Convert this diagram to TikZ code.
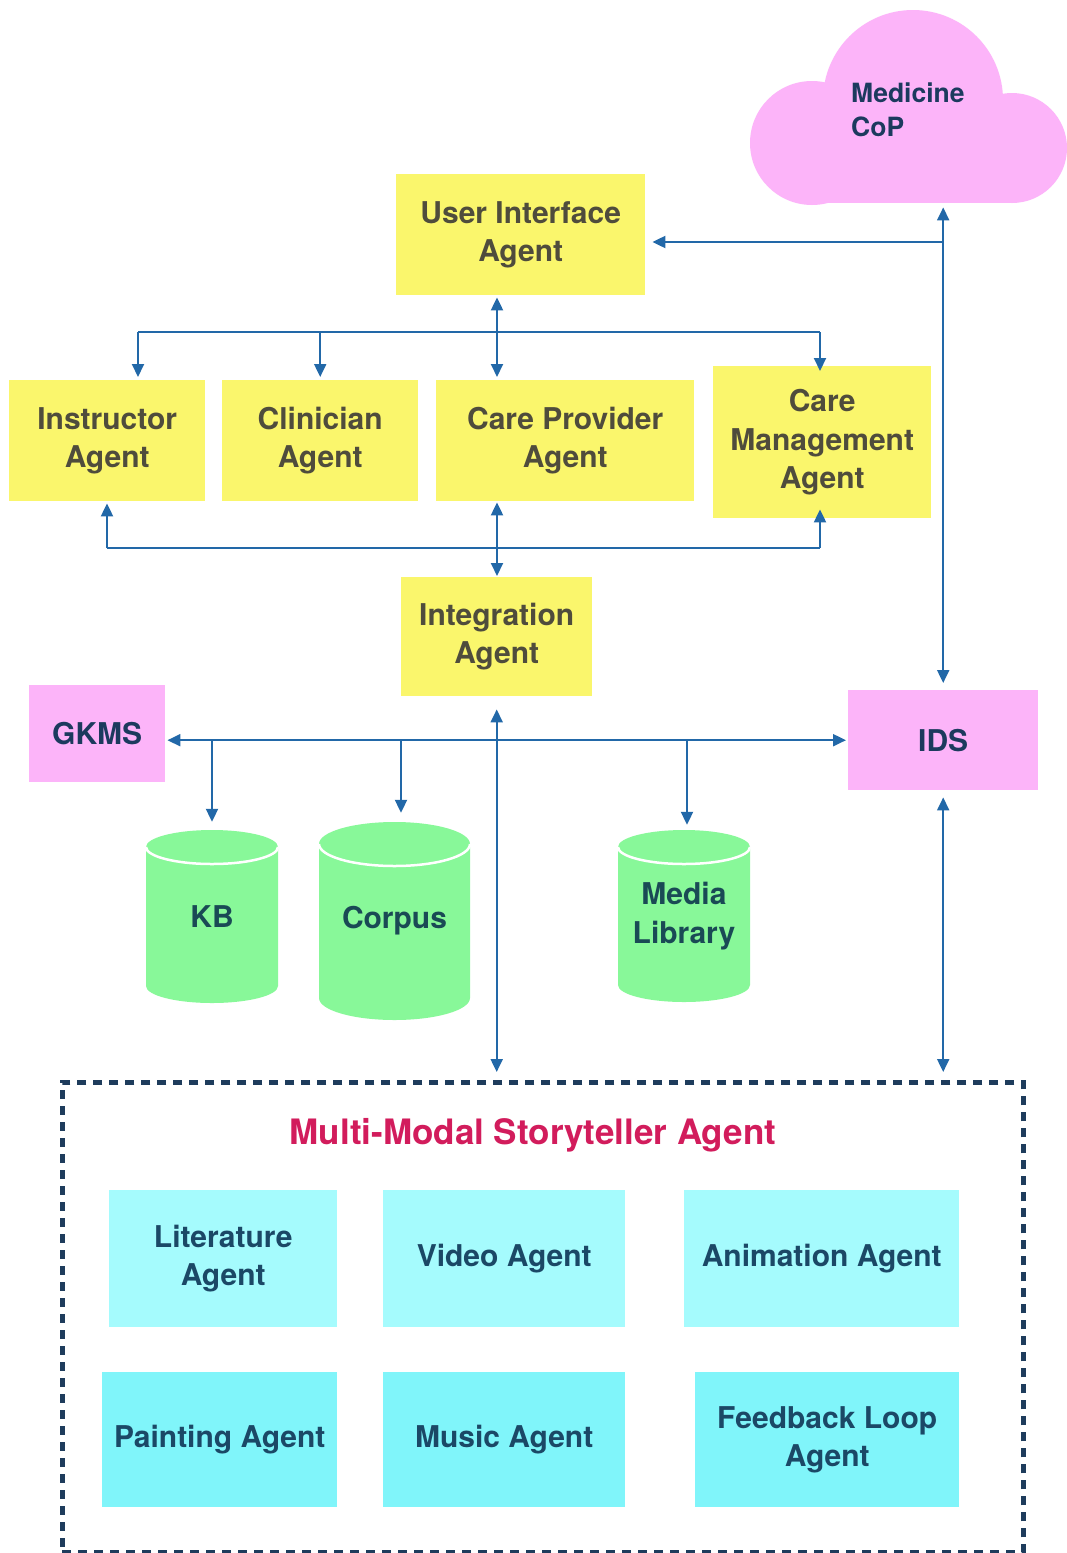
\documentclass[tikz,border=0pt]{standalone}
\usepackage{fontspec}
\setmainfont{TeX Gyre Heros}
\usetikzlibrary{arrows.meta}
\definecolor{yel}{HTML}{FAF66C}
\definecolor{ytxt}{HTML}{4F4C3C}
\definecolor{pnk}{HTML}{FCB4F9}
\definecolor{ntxt}{HTML}{1C3A5E}
\definecolor{grn}{HTML}{88F899}
\definecolor{gtxt}{HTML}{1A4A55}
\definecolor{cyA}{HTML}{A5FBFD}
\definecolor{cyB}{HTML}{80F5FA}
\definecolor{ctxt}{HTML}{1B4866}
\definecolor{arrc}{HTML}{2268A8}
\definecolor{dsh}{HTML}{1E3C5C}
\definecolor{ttl}{HTML}{D21C5C}

\newcommand\dbcyl[7]{%
  \pgfmathsetmacro\cylcx{(#2+#4)/2}%
  \pgfmathsetmacro\cylcy{(#3+#5)/2}%
  \pgfmathsetmacro\cylrx{(#4-#2)/2}%
  \pgfmathsetmacro\cylw{#4-#2}%
  \pgfmathsetmacro\cylh{#5-#3}%
  \pgfmathsetmacro\cylta{#3+#6}%
  \pgfmathsetmacro\cylba{#5-#6}%
  \fill[grn] (#2,\cylta) -- (#2,\cylba) arc[start angle=180,end angle=360,x radius=\cylrx pt,y radius=#6pt] -- (#4,\cylta) arc[start angle=0,end angle=180,x radius=\cylrx pt,y radius=#6pt] -- cycle;
  \draw[white,line width=2.5pt] (#2,\cylta) arc[start angle=180,end angle=360,x radius=\cylrx pt,y radius=#6pt];
  \node[cyltxt,minimum width=\cylw pt,minimum height=\cylh pt] (#1) at (\cylcx,\cylcy) {#7};
}

\begin{document}
\begin{tikzpicture}[x=1pt,y=-1pt,
  base/.style={inner sep=0pt,align=center,font=\fontsize{30}{38.5}\selectfont\bfseries},
  ybox/.style={base,fill=yel,text=ytxt},
  pbox/.style={base,fill=pnk,text=ntxt},
  cbA/.style={base,fill=cyA,text=ctxt},
  cbB/.style={base,fill=cyB,text=ctxt},
  cyltxt/.style={base,text=gtxt},
  wh/.style 2 args={minimum width=#1pt,minimum height=#2pt},
  conn/.style={draw=arrc,line width=2pt},
  arr/.style={conn,-{Triangle[length=13pt,width=12pt]}},
  dbl/.style={conn,{Triangle[length=13pt,width=12pt]}-{Triangle[length=13pt,width=12pt]}},
]
\useasboundingbox (0,0) rectangle (1067,1553);
\fill[white] (0,0) rectangle (1067,1553);

% cloud
\fill[pnk] (913,100) circle[radius=90pt];
\fill[pnk] (812,143) circle[radius=62pt];
\fill[pnk] (1012,148) circle[radius=55pt];
\fill[pnk] (812,120) rectangle (1012,203);
\node[inner sep=0pt,wh={317}{195},anchor=north west] (cop) at (750,10) {};
\node[inner sep=0pt,anchor=west,align=left,text=ntxt,font=\fontsize{26.5}{34}\selectfont\bfseries] (coptxt) at (851,110) {Medicine\\CoP};

% yellow agents
\node[ybox,wh={249}{121},anchor=north west] (ui) at (396,174) {User Interface\\Agent};
\node[ybox,wh={196}{121},anchor=north west] (ins) at (9,380) {Instructor\\Agent};
\node[ybox,wh={196}{121},anchor=north west] (cli) at (222,380) {Clinician\\Agent};
\node[ybox,wh={258}{121},anchor=north west] (cp) at (436,380) {Care Provider\\Agent};
\node[ybox,wh={218}{152},anchor=north west] (cm) at (713,366) {Care\\Management\\Agent};
\node[ybox,wh={191}{119},anchor=north west] (int) at (401,577) {Integration\\Agent};

% pink systems
\node[pbox,wh={136}{97},anchor=north west] (gk) at (29,685) {GKMS};
\node[pbox,wh={190}{100},anchor=north west] (ids) at (848,690) {IDS};

% databases
\dbcyl{kb}{146}{830}{278}{1003}{17}{KB}
\dbcyl{cor}{319}{822}{470}{1020}{22}{Corpus}
\dbcyl{med}{618}{830}{750}{1002}{17}{Media\\Library}

% storyteller group
\node[draw=dsh,line width=4.5pt,dash pattern=on 9pt off 7pt,inner sep=0pt,wh={961}{470},anchor=north west] (msa) at (60,1080) {};
\node[inner sep=0pt,text=ttl,font=\fontsize{35}{40}\selectfont\bfseries] (ttl) at (533,1135) {Multi-Modal Storyteller Agent};
\node[cbA,wh={228}{137},anchor=north west] (lit) at (109,1190) {Literature\\Agent};
\node[cbA,wh={242}{137},anchor=north west] (vid) at (383,1190) {Video Agent};
\node[cbA,wh={275}{137},anchor=north west] (ani) at (684,1190) {Animation Agent};
\node[cbB,wh={235}{135},anchor=north west] (pai) at (102,1372) {Painting Agent};
\node[cbB,wh={242}{135},anchor=north west] (mus) at (383,1372) {Music Agent};
\node[cbB,wh={264}{135},anchor=north west] (fb) at (695,1372) {Feedback Loop\\Agent};

% helper coordinates
\coordinate (ybr) at (0,242);
\coordinate (ytop) at (0,332);
\coordinate (ybot) at (0,548);
\coordinate (xa) at (497,0);
\coordinate (xins1) at (138,0);
\coordinate (xins2) at (107,0);
\coordinate (xcm) at (820,0);
\coordinate (xkb) at (212,0);
\coordinate (xcor) at (401,0);
\coordinate (xmed) at (687,0);

% connectors
\draw[dbl,shorten <=2pt,shorten >=7pt] (ids.north |- cop.south) -- (ids.north);
\draw[arr,shorten >=7pt] (ids.north |- ybr) -- (ui.east |- ybr);
\draw[dbl,shorten <=2pt,shorten >=3pt] (ui.south -| xa) -- (cp.north -| xa);
\draw[conn] (xins1 |- ytop) -- (xcm |- ytop);
\draw[arr,shorten >=3pt] (xins1 |- ytop) -- (ins.north -| xins1);
\draw[arr,shorten >=3pt] (cli.north |- ytop) -- (cli.north);
\draw[arr,shorten >=-5pt] (xcm |- ytop) -- (cm.north -| xcm);
\draw[conn] (xins2 |- ybot) -- (xcm |- ybot);
\draw[arr,shorten >=2pt] (xins2 |- ybot) -- (ins.south -| xins2);
\draw[arr,shorten >=-9pt] (xcm |- ybot) -- (cm.south -| xcm);
\draw[dbl,shorten <=1pt,shorten >=1pt] (cp.south -| xa) -- (int.north -| xa);
\draw[dbl,shorten <=2pt,shorten >=2pt] (gk.east |- ids.west) -- (ids.west);
\draw[arr,shorten >=8pt] (xkb |- ids.west) -- (kb.north -| xkb);
\draw[arr,shorten >=9pt] (xcor |- ids.west) -- (cor.north -| xcor);
\draw[arr,shorten >=5pt] (xmed |- ids.west) -- (med.north -| xmed);
\draw[dbl,shorten <=13pt,shorten >=8pt] (int.south) -- (int.south |- msa.north);
\draw[dbl,shorten <=7pt,shorten >=8pt] (ids.south) -- (ids.south |- msa.north);
\end{tikzpicture}
\end{document}
